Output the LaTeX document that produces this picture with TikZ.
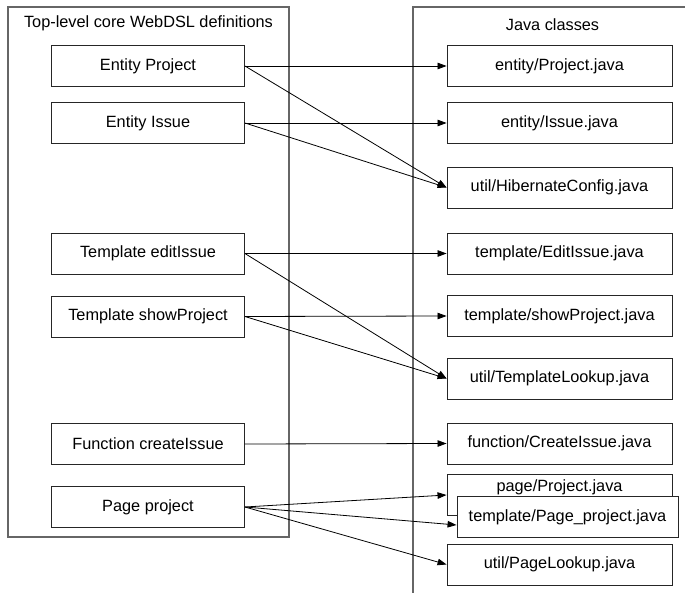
\documentclass[tikz,border=0pt]{standalone}
\usepackage{fontspec}
\setmainfont{Liberation Sans}
\usetikzlibrary{arrows.meta}
\begin{document}
\begin{tikzpicture}[x=1pt,y=-1pt,
  every node/.style={font=\fontsize{16.3}{19}\selectfont},
  lbox/.style={draw=black!85, line width=0.9pt, minimum width=193pt, minimum height=41pt, inner sep=0pt},
  rbox/.style={draw=black!85, line width=0.9pt, minimum width=225pt, minimum height=41pt, inner sep=0pt, fill=white},
  container/.style={draw=black!60, line width=1.2pt},
  conn/.style={draw=black, line width=0.8pt, -{Triangle[length=9pt,width=6.5pt]}}]
\clip (0,0) rectangle (685,593);
\fill[white] (0,0) rectangle (685,593);
% containers
\draw[container] (8,7) rectangle (289,537);
\draw[container] (413,7) rectangle (700,610);
\node[anchor=base] (lt) at (148.5,28) {Top-level core WebDSL definitions};
\node[anchor=base] (rt) at (552.5,30.5) {Java classes};
% left boxes
\node[lbox] (ep) at (148,66) {Entity Project};
\node[lbox] (ei) at (148,123) {Entity Issue};
\node[lbox] (te) at (148,253.5) {Template editIssue};
\node[lbox] (ts) at (148,316.5) {Template showProject};
\node[lbox] (fc) at (148,444) {Function createIssue};
\node[lbox] (pg) at (148,507) {Page project};
% right boxes
\node[rbox] (epj) at (559.5,66) {entity/Project.java};
\node[rbox] (eij) at (559.5,123) {entity/Issue.java};
\node[rbox] (hib) at (559.5,187.5) {util/HibernateConfig.java};
\node[rbox] (tej) at (559.5,253.5) {template/EditIssue.java};
\node[rbox] (tsj) at (559.5,316) {template/showProject.java};
\node[rbox] (tl) at (559.5,378.5) {util/TemplateLookup.java};
\node[rbox] (fcj) at (559.5,443.5) {function/CreateIssue.java};
\node[rbox, label={[anchor=north, inner sep=0pt, yshift=-5pt]north:page/Project.java}] (ppj) at (559.5,495) {};
\node[rbox, minimum width=221pt] (tpl) at (567.5,517) {template/Page\_project.java};
\node[rbox] (pl) at (559.5,564.5) {util/PageLookup.java};
% connectors
\draw[conn] (ep.east) -- (epj.west);
\draw[conn] (ep.east) -- (hib.west);
\draw[conn] (ei.east) -- (eij.west);
\draw[conn] (ei.east) -- (hib.west);
\draw[conn] (te.east) -- (tej.west);
\draw[conn] (te.east) -- (tl.west);
\draw[conn] (ts.east) -- (tsj.west);
\draw[conn] (ts.east) -- (tl.west);
\draw[conn] (fc.east) -- (fcj.west);
\draw[conn] (pg.east) -- (ppj.west);
\draw[conn] (pg.east) -- ([yshift=-8pt]tpl.west);
\draw[conn] (pg.east) -- (pl.west);
\end{tikzpicture}
\end{document}
